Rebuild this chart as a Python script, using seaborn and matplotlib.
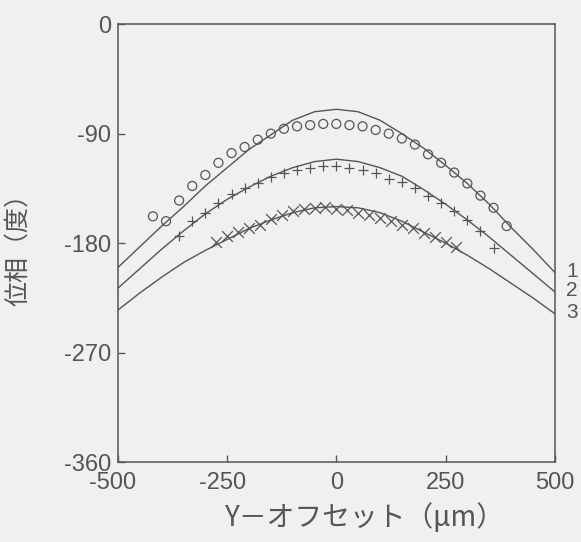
import matplotlib
matplotlib.use("Agg")
import matplotlib.pyplot as plt
import matplotlib.transforms as mtransforms
import seaborn as sns
import pandas as pd

# solid model curves (phase in degrees vs Y offset in um)
offset_um = [-500, -450, -400, -350, -300, -250, -200, -150, -100, -50, 0,
             50, 100, 150, 200, 250, 300, 350, 400, 450, 500]
phase_curve1 = [-200, -183, -166, -150, -133, -118, -103, -91, -79, -72, -70,
                -72, -79, -90, -102, -116, -131, -148, -167, -185, -204]
phase_curve2 = [-217, -201, -185, -170, -156, -144, -134, -125, -118, -113, -111,
                -113, -118, -125, -136, -148, -161, -175, -190, -205, -220]
phase_curve3 = [-235, -221, -208, -196, -186, -177, -168, -161, -155, -151, -150,
                -151, -155, -162, -171, -180, -190, -201, -213, -225, -238]

# measured points
circle_x = [-420, -390, -360, -330, -300, -270, -240, -210, -180, -150, -120, -90, -60, -30,
            0, 30, 60, 90, 120, 150, 180, 210, 240, 270, 300, 330, 360, 390]
circle_y = [-158, -162, -145, -133, -124, -114, -106, -101, -95, -90, -86, -84, -83, -82,
            -82, -83, -84, -87, -90, -94, -99, -107, -114, -122, -131, -141, -151, -166]

plus_x = [-360, -330, -300, -270, -240, -210, -180, -150, -120, -90, -60, -30, 0,
          30, 60, 90, 120, 150, 180, 210, 240, 270, 300, 330, 360]
plus_y = [-174, -162, -155, -147, -140, -135, -131, -126, -122, -120, -118, -117, -117,
          -118, -120, -122, -127, -130, -135, -141, -147, -154, -161, -170, -184]

cross_x = [-275, -250, -225, -200, -175, -150, -125, -100, -75, -50, -25, 0,
           25, 50, 75, 100, 125, 150, 175, 200, 225, 250, 275]
cross_y = [-179, -174, -171, -168, -165, -160, -157, -154, -152, -151, -150, -152,
           -153, -155, -157, -159, -162, -165, -168, -172, -175, -179, -183]

x_ticks = [-500, -250, 0, 250, 500]
x_tick_labels = ["-500", "-250", "0", "250", "500"]
y_ticks = [0, -90, -180, -270, -360]
y_tick_labels = ["0", "-90", "-180", "-270", "-360"]
curve_labels = ["1", "2", "3"]

ink = "#555555"
paper = "#f0f0f2"

sns.set_theme(style="ticks")
plt.rcParams["font.family"] = ["Liberation Sans", "Noto Sans CJK JP", "DejaVu Sans"]
plt.rcParams["axes.unicode_minus"] = False

fig = plt.figure(figsize=(5.81, 5.42), dpi=100, facecolor=paper)
ax = fig.add_axes([0.2031, 0.1476, 0.7516, 0.8078], facecolor=paper)

curves = pd.DataFrame({"offset": offset_um, "c1": phase_curve1,
                       "c2": phase_curve2, "c3": phase_curve3})
for col in ["c1", "c2", "c3"]:
    sns.lineplot(data=curves, x="offset", y=col, ax=ax, color=ink, linewidth=1.0)

sns.scatterplot(x=circle_x, y=circle_y, ax=ax, marker="o", s=42,
                facecolor="none", edgecolor=ink, linewidth=0.9, zorder=3)
sns.scatterplot(x=plus_x, y=plus_y, ax=ax, marker="+", s=55,
                color=ink, linewidth=0.9, zorder=3)
sns.scatterplot(x=cross_x, y=cross_y, ax=ax, marker="x", s=60,
                color=ink, linewidth=0.9, zorder=3)

ax.set_xlim(-500, 500)
ax.set_ylim(-360, 0)
ax.set_xticks(x_ticks)
ax.set_xticklabels(x_tick_labels)
ax.set_yticks(y_ticks)
ax.set_yticklabels(y_tick_labels)
ax.set_xlabel("")
ax.set_ylabel("")

for sp in ax.spines.values():
    sp.set_visible(True)
    sp.set_color(ink)
    sp.set_linewidth(1.1)

ax.tick_params(axis="both", direction="in", length=5, width=1.0, color=ink,
               labelcolor=ink, labelsize=17, top=False, right=False)
ax.tick_params(axis="x", pad=7)
ax.tick_params(axis="y", pad=5)

# minus sign hangs left of the digits
shift = mtransforms.ScaledTranslation(-5 / 100, 0, fig.dpi_scale_trans)
for lab in ax.get_xticklabels():
    if lab.get_text().startswith("-"):
        lab.set_transform(lab.get_transform() + shift)

# curve numbers at the right end
trans = mtransforms.blended_transform_factory(ax.transAxes, ax.transData)
ends = [phase_curve1[-1], phase_curve2[-1], phase_curve3[-1]]
for lab, yv in zip(curve_labels, ends):
    ax.text(1.04, yv + 1, lab, transform=trans, ha="center", va="center",
            fontsize=15, color=ink, clip_on=False)

fig.text(0.031, 0.55, "位相（度）", rotation=90, ha="center", va="center",
         fontsize=18, color=ink, family=["Noto Sans CJK JP", "DejaVu Sans"])
fig.text(0.628, 0.044, "Y－オフセット（μm）", ha="center", va="center",
         fontsize=20, color=ink, family=["Noto Sans CJK JP", "DejaVu Sans"])

fig.savefig("out.png", dpi=100, facecolor=paper)
